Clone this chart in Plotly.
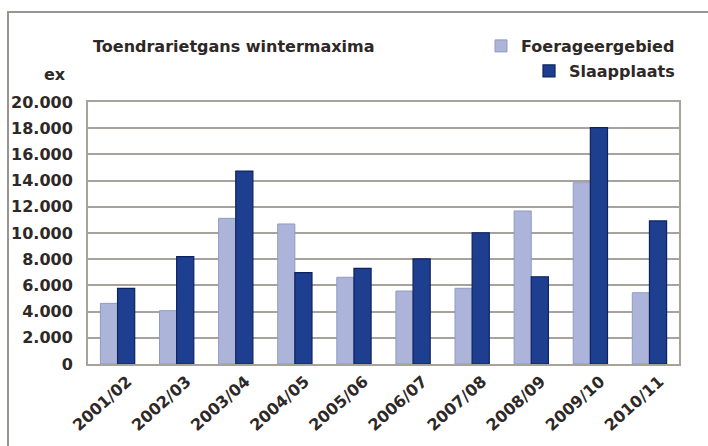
import plotly.graph_objects as go

seasons = ["2001/02", "2002/03", "2003/04", "2004/05", "2005/06",
           "2006/07", "2007/08", "2008/09", "2009/10", "2010/11"]
foerageergebied = [4630, 4070, 11120, 10690, 6620, 5570, 5780, 11680, 13840, 5440]
slaapplaats = [5780, 8190, 14730, 6970, 7300, 8020, 10020, 6660, 18040, 10920]
y_ticks = [0, 2000, 4000, 6000, 8000, 10000, 12000, 14000, 16000, 18000, 20000]

W, H = 708, 446
ML, MR, MT, MB = 88, 29, 102, 82
pw, ph = W - ML - MR, H - MT - MB

def px(x):
    return (x - ML) / pw

def py(y):
    return (H - MB - y) / ph

txt = "#2e2826"
fam = "DejaVu Sans, Liberation Sans, Arial, sans-serif"
font = dict(family=fam, size=16, color=txt, weight="bold")
big = dict(family=fam, size=16, color=txt, weight="bold")

fig = go.Figure()
fig.add_trace(go.Bar(
    x=seasons, y=foerageergebied, name="Foerageergebied",
    marker=dict(color="#acb5d9", line=dict(color="#8f9bc4", width=1)),
    legend="legend",
))
fig.add_trace(go.Bar(
    x=seasons, y=slaapplaats, name="Slaapplaats",
    marker=dict(color="#1e3f90", line=dict(color="#0e2260", width=1.2)),
    legend="legend2",
))

fig.update_layout(
    width=W, height=H,
    margin=dict(l=ML, r=MR, t=MT, b=MB, autoexpand=False),
    paper_bgcolor="white", plot_bgcolor="white",
    barmode="group", bargap=0.42, bargroupgap=0,
    separators=",.",
    font=font,
    showlegend=True,
    legend=dict(x=px(680), y=py(46), xanchor="right", yanchor="middle",
                font=big, bgcolor="rgba(0,0,0,0)", itemwidth=30, tracegroupgap=0),
    legend2=dict(x=px(680), y=py(71), xanchor="right", yanchor="middle",
                 font=big, bgcolor="rgba(0,0,0,0)", itemwidth=30, tracegroupgap=0),
    xaxis=dict(tickangle=-42, showgrid=False, showline=True, linecolor="#a8a29d",
               linewidth=2, mirror=True, ticks="", tickfont=big, automargin=False,
               ticklabelshift=10),
    yaxis=dict(range=[0, 20000], tickvals=y_ticks, tickformat=",d",
               showgrid=True, gridcolor="#a8a29d", gridwidth=2,
               showline=True, linecolor="#a8a29d", linewidth=2, mirror=True,
               ticks="", tickfont=font, zeroline=False, automargin=False,
               ticklabelstandoff=10),
    annotations=[
        dict(text="Toendrarietgans wintermaxima", xref="paper", yref="paper",
             x=px(91), y=py(46), xanchor="left", yanchor="middle", showarrow=False,
             font=big),
        dict(text="ex", xref="paper", yref="paper",
             x=px(68), y=py(74), xanchor="right", yanchor="middle", showarrow=False,
             font=font),
    ],
    shapes=[
        dict(type="rect", xref="paper", yref="paper",
             x0=px(8), x1=px(712), y0=py(460), y1=py(12),
             line=dict(color="#9a9490", width=2), layer="below"),
    ],
)

fig.write_html("out.html", config={"displayModeBar": False},
               post_script="document.body.style.margin='0';")
